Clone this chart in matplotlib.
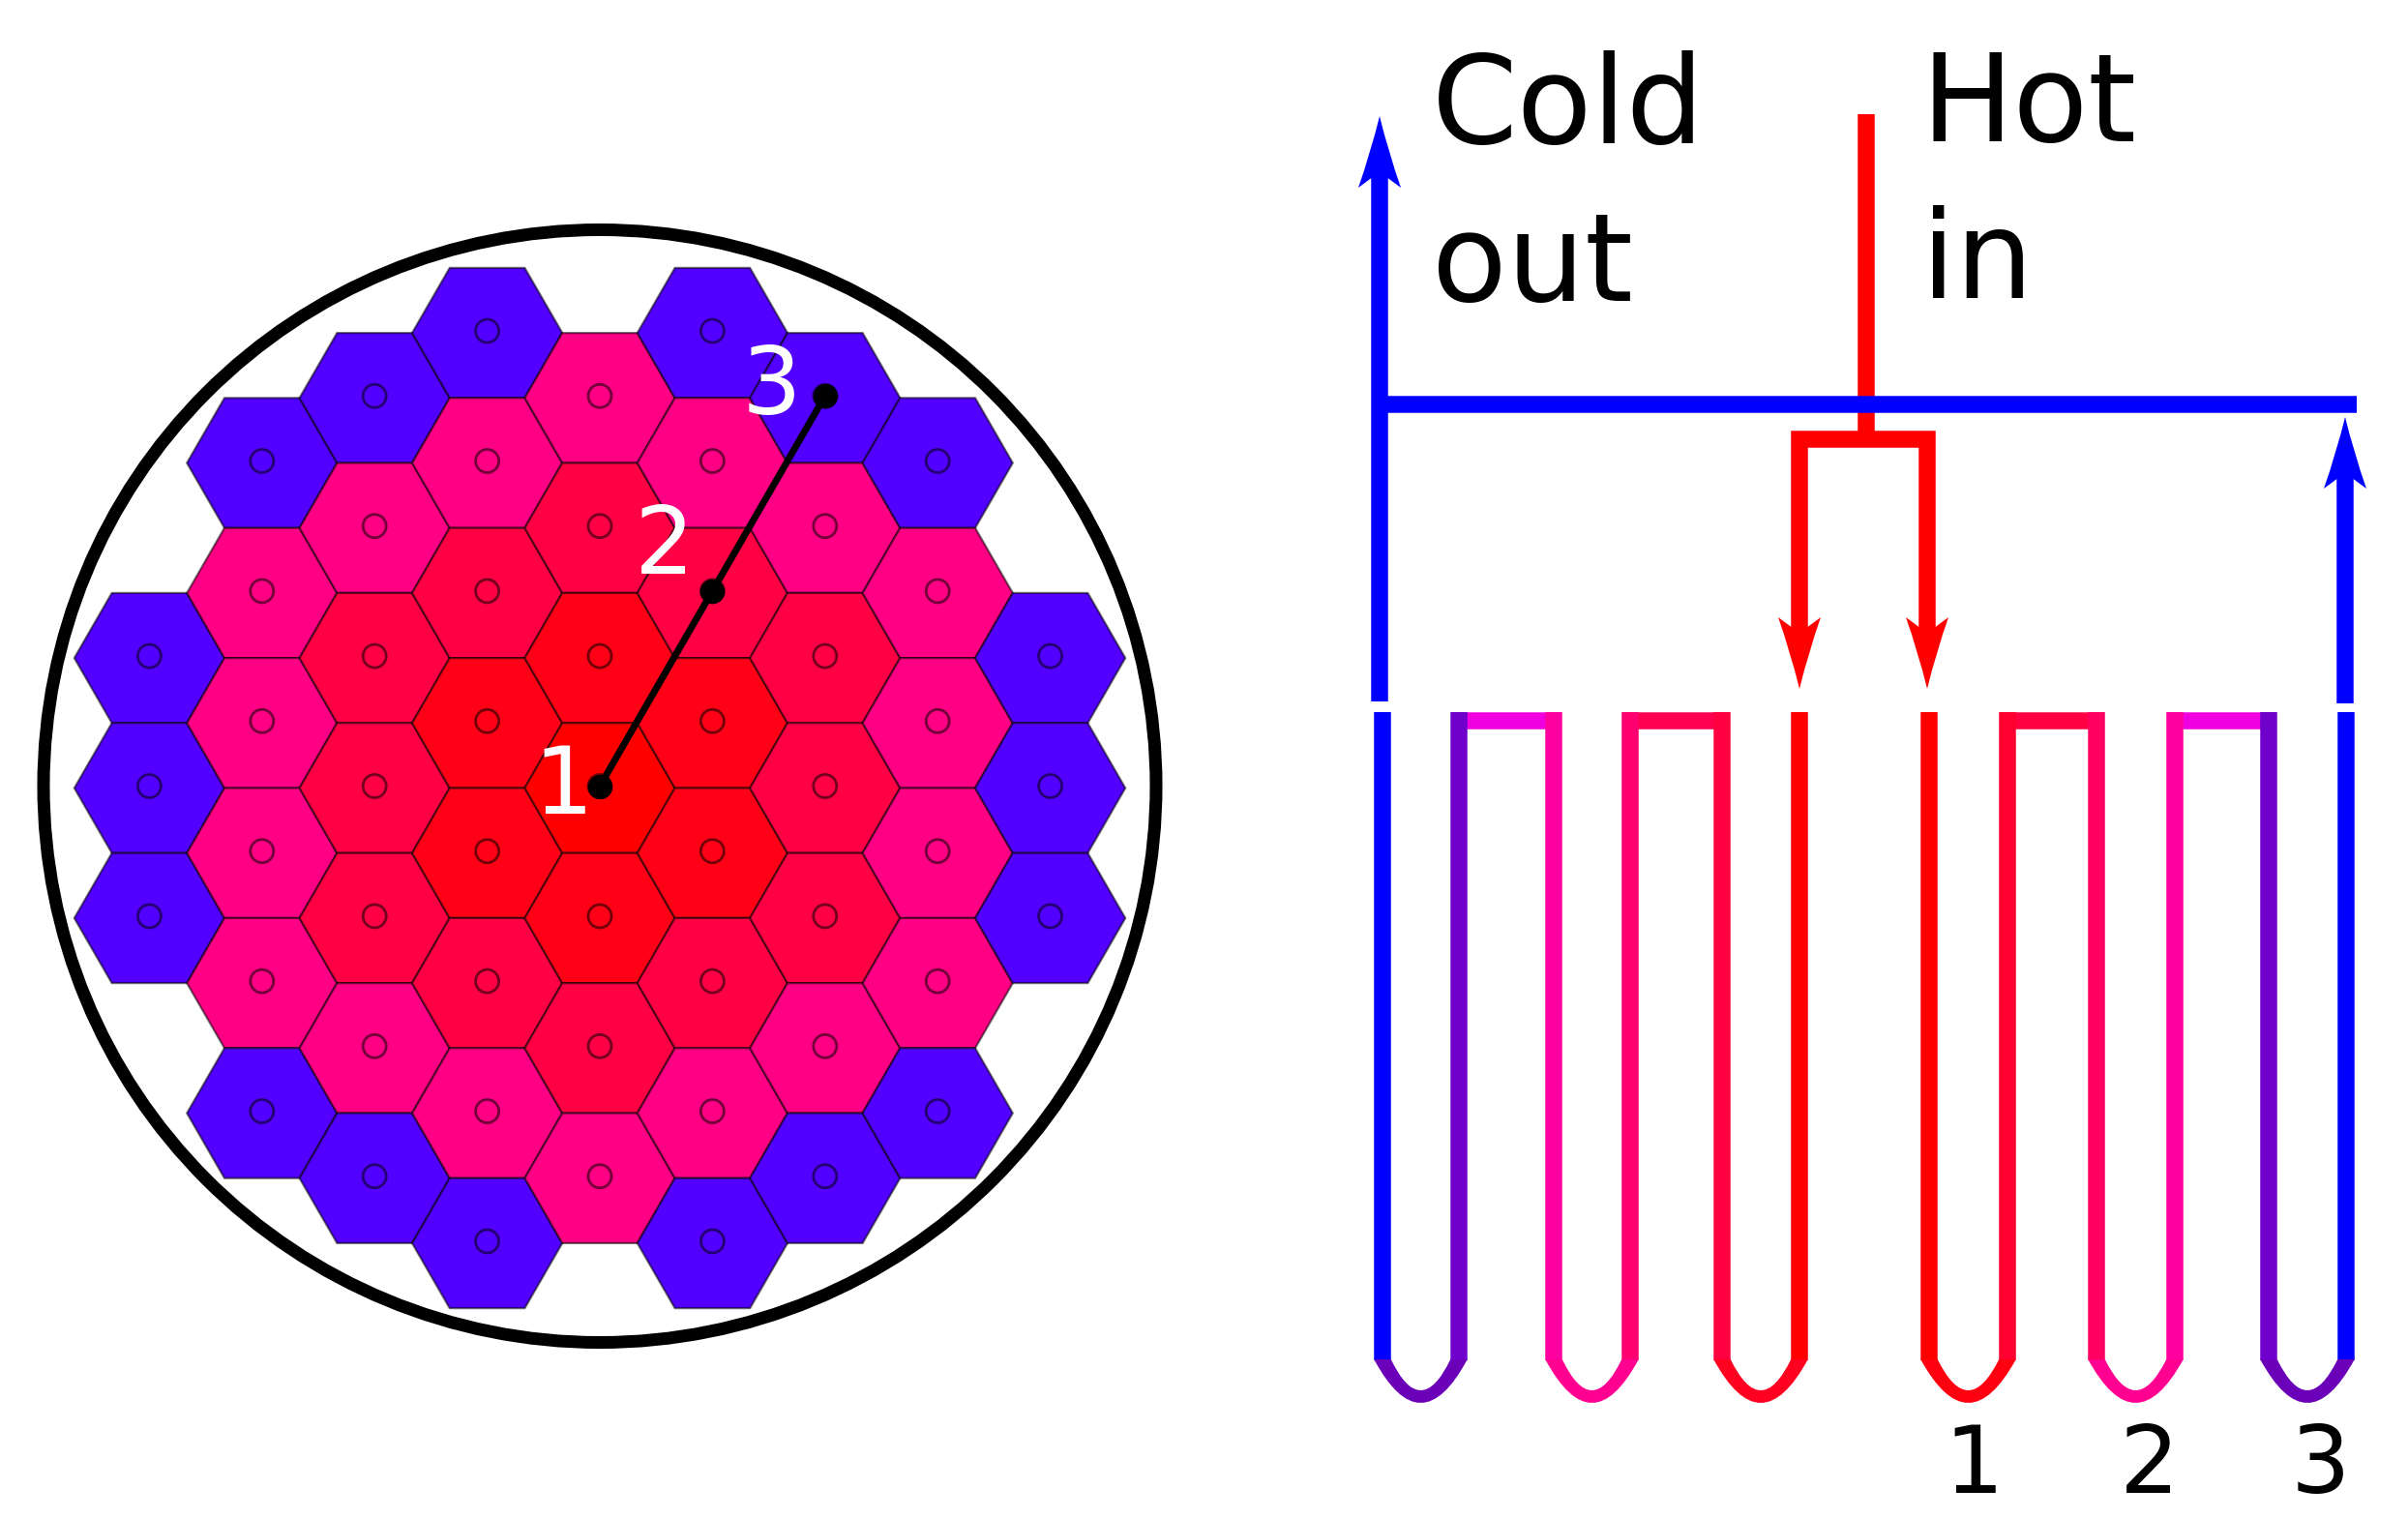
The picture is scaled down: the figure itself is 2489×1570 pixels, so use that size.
import matplotlib
matplotlib.use('Agg')
import numpy as np
import matplotlib.pyplot as plt
from matplotlib.patches import Polygon, Circle, PathPatch
from matplotlib.path import Path
from matplotlib.colors import to_rgba

# hexagon layout, one list per column: half-row index and ring number
hex_cols = [-4, -3, -2, -1, 0, 1, 2, 3, 4]
hex_rows = [
    [-2, 0, 2],
    [-5, -3, -1, 1, 3, 5],
    [-6, -4, -2, 0, 2, 4, 6],
    [-7, -5, -3, -1, 1, 3, 5, 7],
    [-6, -4, -2, 0, 2, 4, 6],
    [-7, -5, -3, -1, 1, 3, 5, 7],
    [-6, -4, -2, 0, 2, 4, 6],
    [-5, -3, -1, 1, 3, 5],
    [-2, 0, 2],
]
hex_rings = [
    [4, 4, 4],
    [4, 3, 3, 3, 3, 4],
    [4, 3, 2, 2, 2, 3, 4],
    [4, 3, 2, 1, 1, 2, 3, 4],
    [3, 2, 1, 0, 1, 2, 3],
    [4, 3, 2, 1, 1, 2, 3, 4],
    [4, 3, 2, 2, 2, 3, 4],
    [4, 3, 3, 3, 3, 4],
    [4, 4, 4],
]
ring_colors = ['#ff0000', '#ff0016', '#ff0044', '#ff0084', '#5200ff']

# sample line across the core, in hexagon columns and half rows
probe_col = [0, 1, 2]
probe_row = [0, -3, -6]
probe_labels = ['1', '2', '3']
probe_label_x = [582, 687, 797]
probe_label_y = [841, 593, 428]

# tube legs of the hairpin drawing
leg_x = [1429, 1508, 1606, 1685, 1780, 1860, 1994, 2075, 2167, 2248, 2345, 2425]
leg_colors = ['#0000ff', '#7000cc', '#ff00a0', '#ff0070', '#ff0040', '#ff0000',
              '#ff0000', '#ff0030', '#ff0060', '#ff00a0', '#7000cc', '#0000ff']
bend_colors = ['#6a00b8', '#ff0090', '#ff0020', '#ff0010', '#ff0090', '#6a00b8']
cap_colors = ['#f000e0', '#ff0050', '#ff0040', '#f000e0']
bend_labels = ['1', '2', '3']
bend_label_x = [2040, 2222, 2398]

cx, cy = 620, 812.5
side = 77.6
dx = 1.5 * side
dy = np.sqrt(3) * side / 2
hex_shift = 2


def px(w):
    return w * 72 / 100


def hex_center(col, row):
    return cx + col * dx, cy + row * dy


def arrow_head(ax, x, tip, base, color):
    # slender head with slightly concave sides and a shallow notch
    h = base - tip
    verts = [(x, tip), (x + 9, tip + 0.5 * h), (x + 22, base), (x, tip + 0.78 * h),
             (x - 22, base), (x - 9, tip + 0.5 * h), (x, tip)]
    codes = [Path.MOVETO, Path.CURVE3, Path.CURVE3, Path.LINETO, Path.LINETO,
             Path.CURVE3, Path.CURVE3]
    ax.add_patch(PathPatch(Path(verts, codes), facecolor=color, edgecolor='none', zorder=5))


fig = plt.figure(figsize=(24.89, 15.70), dpi=100)
ax = fig.add_axes([0, 0, 1, 1])
ax.set_xlim(0, 2489)
ax.set_ylim(1570, 0)
ax.axis('off')

# core cross section
ax.add_patch(Circle((cx, cy), 575, facecolor='none', edgecolor='black', linewidth=px(13)))
angles = np.deg2rad(np.arange(0, 360, 60))
for col, rows, rings in zip(hex_cols, hex_rows, hex_rings):
    for row, ring in zip(rows, rings):
        x, y = hex_center(col, row)
        pts = np.column_stack([x + side * np.cos(angles),
                               y + hex_shift + side * np.sin(angles)])
        ax.add_patch(Polygon(pts, closed=True, facecolor=ring_colors[ring],
                             edgecolor=to_rgba('black', 0.55), linewidth=px(2.2)))
        ax.add_patch(Circle((x, y), 12, facecolor='none',
                            edgecolor=to_rgba('black', 0.55), linewidth=px(2.8)))

# sample line and its labels
probe_x, probe_y = hex_center(np.array(probe_col), np.array(probe_row))
ax.plot(probe_x, probe_y, color='black', linewidth=px(7), marker='o', markersize=px(24), zorder=4)
for label, x, y in zip(probe_labels, probe_label_x, probe_label_y):
    ax.text(x, y, label, color='white', fontsize=px(97), ha='center',
            va='baseline', family='DejaVu Sans', zorder=6)

# outlet and inlet headers
lw = px(17.5)
ax.plot([1929, 1929], [449, 118], color='#ff0000', linewidth=lw, solid_capstyle='butt')
ax.plot([1860, 1860, 1992, 1992], [680, 454, 454, 680], color='#ff0000', linewidth=lw,
        solid_joinstyle='miter', solid_capstyle='butt')
arrow_head(ax, 1860, 712, 638, '#ff0000')
arrow_head(ax, 1992, 712, 638, '#ff0000')
ax.plot([1426, 1426], [725, 160], color='#0000ff', linewidth=lw, solid_capstyle='butt', zorder=3)
ax.plot([1426, 2436], [418, 418], color='#0000ff', linewidth=lw, solid_capstyle='butt', zorder=3)
ax.plot([2424, 2424], [727, 470], color='#0000ff', linewidth=lw, solid_capstyle='butt', zorder=3)
arrow_head(ax, 1426, 120, 194, '#0000ff')
arrow_head(ax, 2424, 431, 505, '#0000ff')

# hairpin tubes, the bends are filled so they get thicker at the bottom
top, straight = 736, 1405
half = lw * 100 / 72 / 2
for x, color in zip(leg_x, leg_colors):
    ax.plot([x, x], [top, straight + 1], color=color, linewidth=lw, solid_capstyle='butt', zorder=3)
for i, color in enumerate(bend_colors):
    x0, x1 = leg_x[2 * i], leg_x[2 * i + 1]
    mid = (x0 + x1) / 2
    verts = [(x0 - half, straight), (mid, 1495), (x1 + half, straight),
             (x1 - half, straight), (mid, 1469), (x0 + half, straight), (x0 - half, straight)]
    codes = [Path.MOVETO, Path.CURVE3, Path.CURVE3, Path.LINETO,
             Path.CURVE3, Path.CURVE3, Path.CLOSEPOLY]
    ax.add_patch(PathPatch(Path(verts, codes), facecolor=color, edgecolor='none', zorder=3))
for i, color in enumerate(cap_colors):
    x0, x1 = leg_x[2 * i + 1], leg_x[2 * i + 2]
    if i >= 2:
        x0, x1 = leg_x[2 * i + 3], leg_x[2 * i + 4]
    ax.plot([x0, x1], [745, 745], color=color, linewidth=lw, solid_capstyle='butt', zorder=2)

# text
for label, x, y in [('Cold', 1480, 148), ('out', 1480, 311), ('Hot', 1986, 146), ('in', 1986, 308)]:
    ax.text(x, y, label, color='black', fontsize=px(127), ha='left', va='baseline',
            family='DejaVu Sans')
for label, x in zip(bend_labels, bend_label_x):
    ax.text(x, 1543, label, color='black', fontsize=px(97), ha='center', va='baseline',
            family='DejaVu Sans')

fig.savefig('out.png', dpi=100, facecolor='white')
